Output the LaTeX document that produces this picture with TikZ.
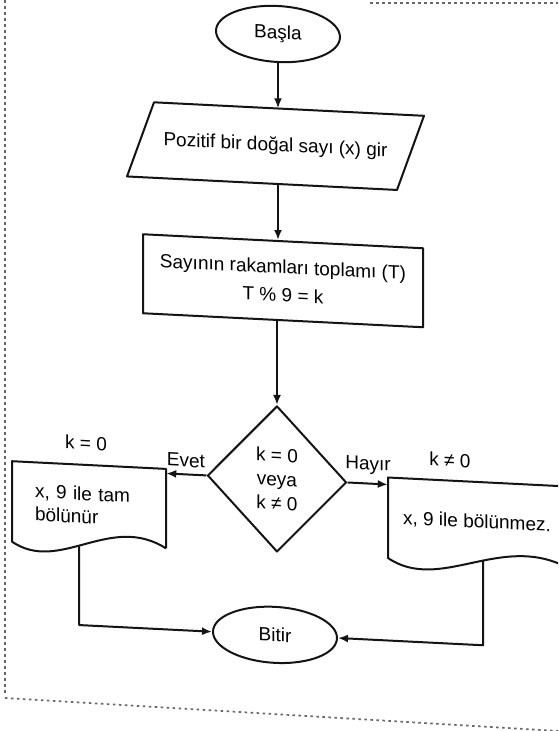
\documentclass[tikz,border=0pt]{standalone}
\usepackage{fontspec}
\setmainfont{Liberation Sans}
\usetikzlibrary{shapes.geometric,arrows.meta}

\tikzset{
  ink/.style={line width=2pt, draw=black!92, line join=round},
  flow/.style={ink, -{Latex[length=10pt,width=8pt]}},
  txt/.style={font=\fontsize{19}{24}\selectfont, text=black, inner sep=0pt},
  terminal/.style={ink, txt, ellipse, minimum width=124pt, minimum height=56pt},
  procbox/.style={ink, txt, rectangle, align=center, font=\fontsize{19}{28}\selectfont},
  decision/.style={ink, txt, diamond, align=center, minimum width=139pt, minimum height=146pt},
  frame/.style={line width=1.7pt, draw=black!60, dash pattern=on 2.5pt off 3.5pt},
}

\begin{document}
\begin{tikzpicture}[x=1pt,y=-1pt]
\clip (0,0) rectangle (558,731);
\fill[white] (0,0) rectangle (558,731);

% dashed page frame
\draw[frame] (5,0) -- (5,694);
\draw[frame] (5,698) -- (558,731);
\draw[frame] (370,3) -- (558,3);

\begin{scope}[yslant=-0.05, yshift=13.9pt, transform shape]
  % start / end
  \node[terminal] (start) at (278,34) {Başla};
  \node[terminal] (end) at (275,635) {Bitir};

  % input (parallelogram)
  \node[txt, minimum width=270pt, minimum height=75.5pt] (inp) at (275.5,146.25)
    {Pozitif bir doğal sayı (x) gir};
  \draw[ink] (127,184) -- (154,108.5) -- (424,108.5) -- (397,184) -- cycle;

  % process
  \node[procbox, minimum width=280pt, minimum height=79pt] (proc) at (283,280.5)
    {Sayının rakamları toplamı (T)\\T \% 9 = k};

  % decision
  \node[decision] (dec) at (277,479) {k = 0\\veya\\k ≠ 0};

  % output documents
  \node[txt, minimum width=154pt, minimum height=80.5pt, text width=108pt,
        inner xsep=23pt, align=left, font=\fontsize{19}{23}\selectfont]
    (yes) at (89,514.75) {x, 9 ile tam\\bölünür};
  \draw[ink] (166,554) -- (166,474.5) -- (12,474.5) -- (12,555)
    .. controls (60,585) and (110,521) .. (166,554) coordinate[pos=0.455] (ybot);

  \node[txt, minimum width=178pt, minimum height=80.5pt] (no) at (477,512.25)
    {x, 9 ile bölünmez.};
  \draw[ink] (566,552.5) -- (566,472) -- (388,472) -- (388,552.5)
    .. controls (440,585) and (500,522) .. (566,552.5) coordinate[pos=0.563] (nbot);

  % labels
  \node[txt] (lab0) at (86,452.6) {k = 0};
  \node[txt] (lab1) at (450,451.4) {k ≠ 0};
  \node[txt] (evet) at (186,465) {Evet};
  \node[txt] (hayir) at (368,461) {Hayır};

  % connector corners
  \coordinate (lcorner) at (79,635);
  \coordinate (rcorner) at (483,635);

  % connectors
  \draw[flow] (start.south) -- (start.south |- inp.north);
  \draw[flow] (start.south |- inp.south) -- (start.south |- proc.north);
  \draw[flow] (dec.north |- proc.south) -- (dec.north);
  \draw[flow] (dec.west) -- (dec.west -| yes.east);
  \draw[flow] (dec.east) -- (dec.east -| no.west);
  \draw[flow] (ybot) -- (ybot |- lcorner) -- (end.west);
  \draw[flow] (nbot) -- (nbot |- rcorner) -- (end.east);
\end{scope}
\end{tikzpicture}
\end{document}
